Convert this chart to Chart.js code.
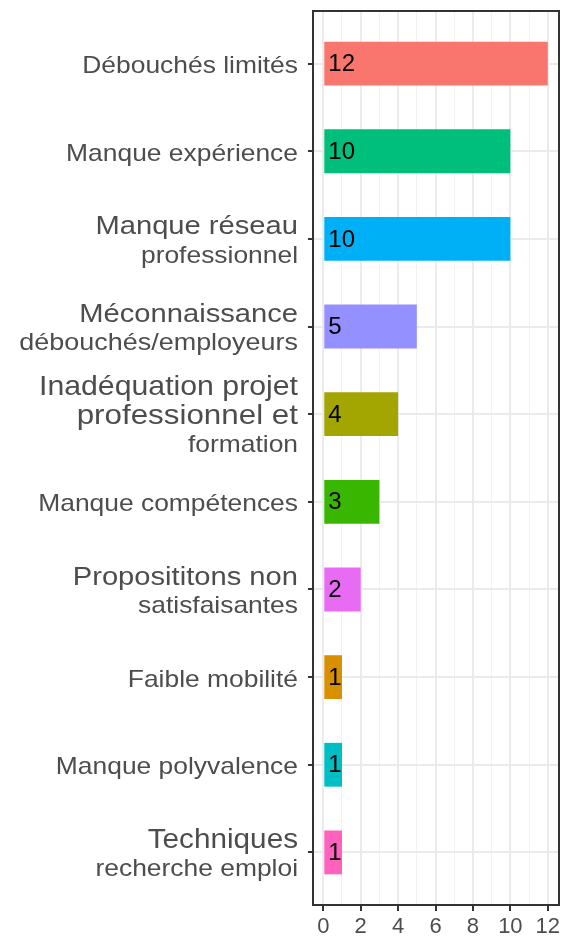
<!DOCTYPE html>
<html>
<head>
<meta charset="utf-8">
<script src="https://cdn.jsdelivr.net/npm/chart.js@4"></script>
<style>
  html, body { margin: 0; padding: 0; background: #ffffff; }
  #wrap { width: 565px; height: 940px; position: relative; }
</style>
</head>
<body>
<div id="wrap"><canvas id="c"></canvas></div>
<script>
// ---- data ----
const categories = [
  ["Débouchés limités"],
  ["Manque expérience"],
  ["Manque réseau", "professionnel"],
  ["Méconnaissance", "débouchés/employeurs"],
  ["Inadéquation projet", "professionnel et", "formation"],
  ["Manque compétences"],
  ["Proposititons non", "satisfaisantes"],
  ["Faible mobilité"],
  ["Manque polyvalence"],
  ["Techniques", "recherche emploi"]
];
const values = [12, 10, 10, 5, 4, 3, 2, 1, 1, 1];
const xTicks = [0, 1, 2, 3, 4, 5, 6, 7, 8, 9, 10, 11, 12];

// ---- styles ----
const barColors = ["#F8766D", "#00BF7D", "#00B0F6", "#9590FF", "#A3A500",
                   "#39B600", "#E76BF3", "#D89000", "#00BFC4", "#FF62BC"];
const lineSizes = [
  [24], [24], [26.5, 24], [26.5, 24.5], [27.5, 28.5, 24],
  [24], [26.5, 24], [24], [24], [27, 24]
];
const FONT = '"Liberation Sans", Arial, Helvetica, sans-serif';

const points = values.map((v, i) => ({ x: v, y: i }));

const decorPlugin = {
  id: 'decor',
  afterDatasetsDraw(chart) {
    const ctx = chart.ctx;
    const ca = chart.chartArea;
    const ys = chart.scales.y;
    const meta = chart.getDatasetMeta(0);
    ctx.save();
    // value labels inside bars
    ctx.fillStyle = '#000000';
    ctx.font = '24px ' + FONT;
    ctx.textAlign = 'left';
    ctx.textBaseline = 'middle';
    meta.data.forEach((bar, i) => {
      ctx.fillText(String(values[i]), bar.base + 4, bar.y + 1);
    });
    // panel border
    ctx.strokeStyle = '#333333';
    ctx.lineWidth = 2;
    ctx.strokeRect(ca.left, ca.top, ca.right - ca.left, ca.bottom - ca.top);
    // y category labels
    ctx.fillStyle = '#4D4D4D';
    ctx.textAlign = 'right';
    ctx.textBaseline = 'alphabetic';
    const rightX = ca.left - 15;
    const spacing = 28.5;
    categories.forEach((lines, i) => {
      const cy = ys.getPixelForValue(i);
      const n = lines.length;
      lines.forEach((line, k) => {
        const size = lineSizes[i][k];
        const base = cy + 9.5 + k * spacing - (n - 1) * spacing / 2;
        ctx.save();
        ctx.translate(rightX, base);
        ctx.scale(1.1, 1);
        ctx.font = size + 'px ' + FONT;
        ctx.fillText(line, 0, 0);
        ctx.restore();
      });
    });
    ctx.restore();
  }
};

new Chart(document.getElementById('c'), {
  type: 'bar',
  data: {
    datasets: [{
      data: points,
      backgroundColor: barColors,
      borderWidth: 0,
      barPercentage: 0.5,
      categoryPercentage: 1.0
    }]
  },
  options: {
    indexAxis: 'y',
    responsive: true,
    maintainAspectRatio: false,
    animation: false,
    layout: { padding: { top: 11, right: 6, left: 0, bottom: 0 } },
    plugins: { legend: { display: false }, tooltip: { enabled: false } },
    scales: {
      x: {
        type: 'linear',
        position: 'bottom',
        min: -0.55,
        max: 12.6,
        offset: false,
        afterBuildTicks(scale) { scale.ticks = xTicks.map(v => ({ value: v })); },
        afterFit(scale) { scale.height = 35; },
        border: { display: false },
        grid: {
          offset: false,
          color: (c) => (c.tick && c.tick.value % 2 === 0) ? '#EBEBEB' : '#F2F2F2',
          lineWidth: (c) => (c.tick && c.tick.value % 2 === 0) ? 2 : 1,
          drawTicks: true,
          tickLength: 6,
          tickWidth: 2,
          tickColor: (c) => (c.tick && c.tick.value % 2 === 0) ? '#333333' : 'rgba(0,0,0,0)'
        },
        ticks: {
          autoSkip: false,
          maxRotation: 0,
          padding: 3,
          color: '#4D4D4D',
          font: { family: FONT, size: 22 },
          callback: (v) => (v % 2 === 0 ? String(v) : '')
        }
      },
      y: {
        type: 'linear',
        reverse: true,
        min: -0.6,
        max: 9.6,
        offset: false,
        afterBuildTicks(scale) { scale.ticks = categories.map((_, i) => ({ value: i })); },
        afterFit(scale) { scale.width = 313; },
        border: { display: false },
        grid: {
          offset: false,
          color: '#EBEBEB',
          lineWidth: 2,
          drawTicks: true,
          tickLength: 5,
          tickWidth: 2,
          tickColor: '#333333'
        },
        ticks: { display: false }
      }
    }
  },
  plugins: [decorPlugin]
});
</script>
</body>
</html>
